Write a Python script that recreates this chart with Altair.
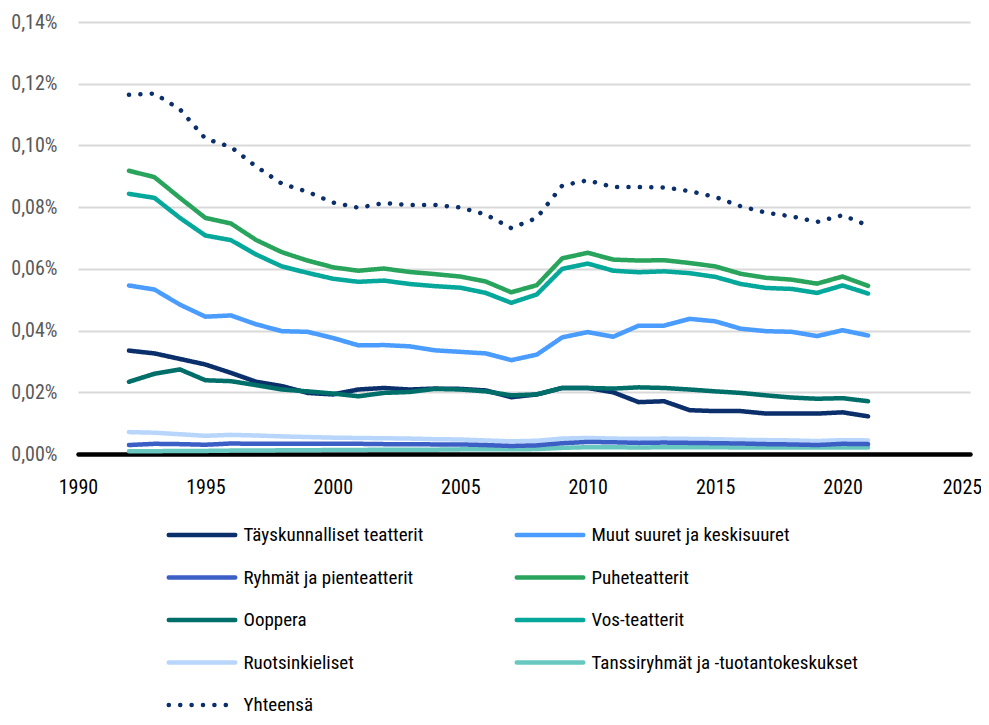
import altair as alt
import pandas as pd

years = list(range(1992, 2022))

series_names = [
    "Täyskunnalliset teatterit",
    "Muut suuret ja keskisuuret",
    "Ryhmät ja pienteatterit",
    "Puheteatterit",
    "Ooppera",
    "Vos-teatterit",
    "Ruotsinkieliset",
    "Tanssiryhmät ja -tuotantokeskukset",
    "Yhteensä",
]
series_colors = [
    "#0a2f6b", "#4a9cff", "#3c5fc5", "#28a45c", "#006f6a",
    "#06a89c", "#b8d5fb", "#68c8bf", "#0a2f6b",
]

taysk = [0.0335, 0.0326, 0.0308, 0.0290, 0.0263, 0.0234, 0.0220, 0.0198, 0.0193, 0.0209,
         0.0214, 0.0209, 0.0212, 0.0211, 0.0206, 0.0184, 0.0193, 0.0214, 0.0214, 0.0200,
         0.0168, 0.0171, 0.0142, 0.0139, 0.0139, 0.0131, 0.0131, 0.0131, 0.0135, 0.0122]
muut = [0.0546, 0.0533, 0.0484, 0.0445, 0.0449, 0.0420, 0.0398, 0.0396, 0.0376, 0.0352,
        0.0353, 0.0349, 0.0336, 0.0331, 0.0326, 0.0304, 0.0322, 0.0378, 0.0395, 0.0380,
        0.0416, 0.0416, 0.0438, 0.0430, 0.0406, 0.0398, 0.0396, 0.0382, 0.0401, 0.0384]
ryhmat = [0.0029, 0.0033, 0.0032, 0.0030, 0.0034, 0.0033, 0.0033, 0.0033, 0.0033, 0.0033,
          0.0032, 0.0032, 0.0031, 0.0031, 0.0029, 0.0026, 0.0028, 0.0035, 0.0039, 0.0038,
          0.0036, 0.0037, 0.0036, 0.0035, 0.0034, 0.0032, 0.0031, 0.0029, 0.0033, 0.0032]
puhe = [0.0918, 0.0897, 0.0830, 0.0765, 0.0747, 0.0693, 0.0654, 0.0627, 0.0605, 0.0594,
        0.0601, 0.0590, 0.0583, 0.0575, 0.0559, 0.0524, 0.0547, 0.0634, 0.0652, 0.0630,
        0.0627, 0.0628, 0.0619, 0.0608, 0.0584, 0.0571, 0.0565, 0.0552, 0.0575, 0.0545]
ooppera = [0.0234, 0.0260, 0.0274, 0.0239, 0.0236, 0.0223, 0.0209, 0.0203, 0.0196, 0.0187,
           0.0198, 0.0201, 0.0211, 0.0209, 0.0203, 0.0190, 0.0193, 0.0214, 0.0214, 0.0212,
           0.0216, 0.0214, 0.0209, 0.0203, 0.0198, 0.0190, 0.0183, 0.0179, 0.0181, 0.0171]
vos = [0.0843, 0.0830, 0.0765, 0.0708, 0.0693, 0.0646, 0.0608, 0.0587, 0.0568, 0.0558,
       0.0562, 0.0551, 0.0544, 0.0539, 0.0522, 0.0490, 0.0517, 0.0600, 0.0617, 0.0594,
       0.0589, 0.0592, 0.0586, 0.0574, 0.0551, 0.0538, 0.0535, 0.0522, 0.0546, 0.0520]
ruotsi = [0.0071, 0.0069, 0.0064, 0.0059, 0.0062, 0.0060, 0.0057, 0.0055, 0.0053, 0.0052,
          0.0051, 0.0050, 0.0048, 0.0047, 0.0044, 0.0041, 0.0043, 0.0050, 0.0052, 0.0050,
          0.0049, 0.0050, 0.0049, 0.0048, 0.0046, 0.0045, 0.0044, 0.0042, 0.0045, 0.0044]
tanssi = [0.0009, 0.0009, 0.0010, 0.0010, 0.0011, 0.0011, 0.0012, 0.0012, 0.0013, 0.0013,
          0.0014, 0.0014, 0.0014, 0.0015, 0.0015, 0.0015, 0.0016, 0.0020, 0.0022, 0.0022,
          0.0021, 0.0022, 0.0022, 0.0022, 0.0021, 0.0021, 0.0021, 0.0021, 0.0021, 0.0021]
yhteensa = [0.1164, 0.1168, 0.1117, 0.1022, 0.0995, 0.0931, 0.0876, 0.0850, 0.0815, 0.0798,
            0.0813, 0.0807, 0.0807, 0.0799, 0.0776, 0.0732, 0.0765, 0.0870, 0.0887, 0.0865,
            0.0865, 0.0864, 0.0852, 0.0833, 0.0803, 0.0782, 0.0770, 0.0752, 0.0774, 0.0740]

y_ticks = [0.0, 0.02, 0.04, 0.06, 0.08, 0.10, 0.12, 0.14]
x_ticks = [1990, 1995, 2000, 2005, 2010, 2015, 2020, 2025]

values_by_series = dict(zip(series_names, [taysk, muut, ryhmat, puhe, ooppera, vos,
                                           ruotsi, tanssi, yhteensa]))
color_by_series = dict(zip(series_names, series_colors))

# legend fills column by column: first column gets 5 entries, second 4
legend_order = [series_names[i] for i in (0, 2, 4, 6, 8, 1, 3, 5, 7)]
legend_colors = [color_by_series[n] for n in legend_order]
legend_dashes = [[0.1, 11.3] if n == "Yhteensä" else [1, 0] for n in legend_order]

draw_order = [
    "Ruotsinkieliset",
    "Tanssiryhmät ja -tuotantokeskukset",
    "Ryhmät ja pienteatterit",
    "Täyskunnalliset teatterit",
    "Ooppera",
    "Muut suuret ja keskisuuret",
    "Vos-teatterit",
    "Puheteatterit",
    "Yhteensä",
]

rows = []
for name in draw_order:
    for yr, v in zip(years, values_by_series[name]):
        rows.append({"Vuosi": yr, "Osuus": v, "Sarja": name})
df = pd.DataFrame(rows)

FONT = "Liberation Sans Narrow, Roboto Condensed, DejaVu Sans Condensed, sans-serif"

legend = alt.Legend(
    title=None,
    orient="none",
    legendX=105,
    legendY=494,
    columns=2,
    columnPadding=83,
    rowPadding=13.5,
    symbolType="M-2,0H2",
    symbolSize=1105,
    symbolStrokeWidth=4.5,
    symbolFillColor="transparent",
    labelFont=FONT,
    labelFontSize=19,
    labelColor="#000000",
    labelOffset=22.5,
    labelLimit=400,
    padding=0,
)

chart = (
    alt.Chart(df)
    .mark_line(strokeWidth=4.5, strokeCap="round", strokeJoin="round")
    .encode(
        x=alt.X(
            "Vuosi:Q",
            scale=alt.Scale(domain=[1990, 2025], nice=False, zero=False),
            axis=alt.Axis(
                values=x_ticks,
                format="d",
                title=None,
                grid=False,
                ticks=False,
                tickSize=0,
                domain=True,
                domainColor="#000000",
                domainWidth=4.5,
                domainCap="round",
                labelFont=FONT,
                labelFontSize=20,
                labelColor="#000000",
                labelPadding=23,
                labelFlush=False,
                labelOffset={"condition": {"test": "datum.value == 2025", "value": -8}, "value": 0},
            ),
        ),
        y=alt.Y(
            "Osuus:Q",
            scale=alt.Scale(domain=[0, 0.14], nice=False),
            axis=alt.Axis(
                values=y_ticks,
                labelExpr="replace(format(datum.value, '.2f'), '.', ',') + '%'",
                title=None,
                domain=False,
                ticks=False,
                tickSize=0,
                grid=True,
                gridColor="#d9d9d9",
                gridWidth=2,
                labelFont=FONT,
                labelFontSize=20,
                labelColor="#595959",
                labelPadding=21,
            ),
        ),
        color=alt.Color(
            "Sarja:N",
            scale=alt.Scale(domain=legend_order, range=legend_colors),
            legend=legend,
            sort=legend_order,
        ),
        strokeDash=alt.StrokeDash(
            "Sarja:N",
            scale=alt.Scale(domain=legend_order, range=legend_dashes),
            legend=legend,
            sort=legend_order,
        ),
    )
    .properties(
        width=892,
        height=432,
        autosize=alt.AutoSizeParams(type="none"),
        padding={"left": 70, "top": 14, "right": 11, "bottom": 263},
    )
    .configure_view(stroke=None)
)

patch = [
    {
        "op": "add",
        "path": "/legends/0/encode",
        "value": {"symbols": {"update": {"strokeCap": {"value": "round"}}}},
    }
]

chart.save(
    "out.html",
    embed_options={"renderer": "svg", "actions": False, "patch": patch},
)
